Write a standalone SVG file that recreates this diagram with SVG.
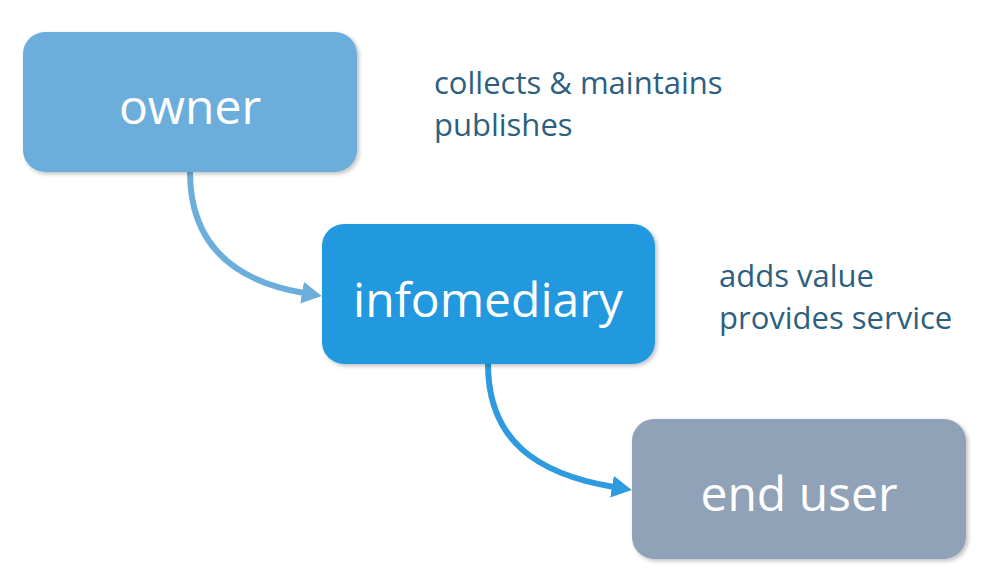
<svg xmlns="http://www.w3.org/2000/svg" width="999" height="583" viewBox="0 0 999 583">
<defs>
<filter id="sh" x="-10%" y="-10%" width="120%" height="130%">
<feDropShadow dx="2" dy="2" stdDeviation="2" flood-color="#000" flood-opacity="0.25"/>
</filter>
<marker id="a1" markerWidth="20" markerHeight="22" refX="2" refY="11" orient="auto" markerUnits="userSpaceOnUse" viewBox="0 0 20 22"><path d="M0,0 L20,11 L0,22 z" fill="#6CAEDB"/></marker>
<marker id="a2" markerWidth="20" markerHeight="22" refX="2" refY="11" orient="auto" markerUnits="userSpaceOnUse" viewBox="0 0 20 22"><path d="M0,0 L20,11 L0,22 z" fill="#2E9ADF"/></marker>
</defs>
<style>
.node text{font-family:"Open Sans","Noto Sans",sans-serif;fill:#fff;text-anchor:middle;font-size:48px}
.note{font-family:"Open Sans","Noto Sans",sans-serif;fill:#2D5F80;font-size:31px}
.c{fill:none;stroke-width:6}
</style>
<rect width="999" height="583" fill="#fff"/>
<g id="connectors">
<path class="c" d="M190,172 C190,240 228,280 304,293" stroke="#6CAEDB" marker-end="url(#a1)"/>
<path class="c" d="M488,364 C488,440 536,474 614,487" stroke="#2E9ADF" marker-end="url(#a2)"/>
</g>
<g id="owner" class="node">
<rect x="23" y="32" width="334" height="140" rx="22" fill="#6CAEDB" filter="url(#sh)"/>
<text x="190" y="124">owner</text>
</g>
<g id="infomediary" class="node">
<rect x="322" y="224" width="333" height="140" rx="22" fill="#2398DF" filter="url(#sh)"/>
<text x="488" y="317">infomediary</text>
</g>
<g id="enduser" class="node">
<rect x="632" y="419" width="334" height="140" rx="22" fill="#90A2B8" filter="url(#sh)"/>
<text x="799" y="511">end user</text>
</g>
<g id="notes">
<text class="note" x="434" y="94">collects &amp; maintains</text>
<text class="note" x="434" y="136">publishes</text>
<text class="note" x="719" y="287">adds value</text>
<text class="note" x="719" y="329">provides service</text>
</g>
</svg>
